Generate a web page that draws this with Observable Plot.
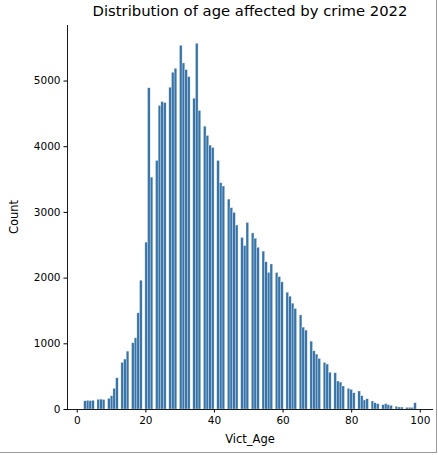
<!DOCTYPE html>
<html>
<head>
<meta charset="utf-8">
<script src="https://cdn.jsdelivr.net/npm/d3@7"></script>
<script src="https://cdn.jsdelivr.net/npm/@observablehq/plot@0.6"></script>
<style>
  html, body { margin: 0; padding: 0; background: #fff; }
  #wrap { position: relative; width: 438px; height: 455px; overflow: hidden; font-family: "DejaVu Sans", sans-serif; color: #000; }
  #chart { position: absolute; left: 0; top: 0; }
  #title { position: absolute; left: 67px; width: 366px; top: 2px; text-align: center; font-size: 14.8px; white-space: nowrap; }
  #ylab { position: absolute; left: 14px; top: 217px; transform: translate(-50%, -50%) rotate(-90deg); font-size: 11.5px; white-space: nowrap; }
  #xlab { position: absolute; left: 250px; top: 432px; transform: translateX(-50%); font-size: 11.5px; white-space: nowrap; }
  #edgeB { position: absolute; left: 0; top: 452px; width: 437px; height: 1px; background: #9a9a9a; }
  #edgeR { position: absolute; left: 436px; top: 0; width: 1px; height: 453px; background: #9a9a9a; }
</style>
</head>
<body>
<div id="wrap">
  <div id="chart"></div>
  <div id="title">Distribution of age affected by crime 2022</div>
  <div id="ylab">Count</div>
  <div id="xlab">Vict_Age</div>
  <div id="edgeB"></div>
  <div id="edgeR"></div>
</div>
<script>
// Victim ages (integers) and their counts
const ages = [
  2, 3, 4, 5, 6, 7, 8, 9, 10, 11, 12, 13, 14, 15, 16, 17, 18, 19, 20,
  21, 22, 23, 24, 25, 26, 27, 28, 29, 30, 31, 32, 33, 34, 35, 36, 37, 38, 39, 40,
  41, 42, 43, 44, 45, 46, 47, 48, 49, 50, 51, 52, 53, 54, 55, 56, 57, 58, 59, 60,
  61, 62, 63, 64, 65, 66, 67, 68, 69, 70, 71, 72, 73, 74, 75, 76, 77, 78, 79, 80,
  81, 82, 83, 84, 85, 86, 87, 88, 89, 90, 91, 92, 93, 94, 95, 96, 97, 98, 99
];
const counts = [
  125, 132, 128, 133, 148, 150, 145, 162, 202, 314, 476, 710, 760, 881, 1008, 1084, 1464, 1960, 2540,
  4890, 3530, 3784, 4620, 4680, 4665, 4898, 5126, 5187, 5536, 5268, 5167, 5061, 4731, 5567, 4544, 4305, 4164, 4017, 3982,
  3784, 3445, 3394, 3195, 3065, 2994, 2800, 2612, 2488, 2840, 2680, 2599, 2462, 2403, 2242, 2080, 2208, 2077, 2016, 1935,
  1778, 1717, 1611, 1530, 1433, 1246, 1201, 1033, 886, 836, 770, 710, 684, 560, 552, 426, 410, 350, 314, 299,
  248, 274, 203, 137, 157, 122, 96, 81, 66, 81, 66, 56, 41, 30, 30, 25, 25, 25, 96
];
const xTicks = [0, 20, 40, 60, 80, 100];
const yTicks = [0, 1000, 2000, 3000, 4000, 5000];
const binCount = 125;

const data = ages.map((age, i) => ({age, count: counts[i]}));

// histogram bin edges spanning the data range (numpy-style equal bins)
const aMin = d3.min(ages), aMax = d3.max(ages);
const thresholds = d3.range(binCount + 1).map(i => aMin + i * (aMax - aMin) / binCount);
thresholds[binCount] = aMax + 1e-9;

// matplotlib-style 5% margins
const pad = 0.05 * (aMax - aMin);
const xDomain = [aMin - pad, aMax + pad];
const yMax = d3.max(counts) * 1.05;

const chart = Plot.plot({
  width: 438,
  height: 455,
  marginLeft: 67,
  marginRight: 5,
  marginTop: 25,
  marginBottom: 46,
  style: { fontFamily: "DejaVu Sans, sans-serif", fontSize: "10.5px", color: "#000", background: "transparent" },
  x: { domain: xDomain, label: null },
  y: { domain: [0, yMax], label: null },
  marks: [
    Plot.rectY(data, Plot.binX({ y: "sum" }, {
      x: "age", y: "count", thresholds,
      fill: "#3874a8", stroke: "#ffffff", strokeWidth: 0.5, strokeOpacity: 0.6, inset: 0
    })),
    Plot.ruleY([0], { stroke: "#000", strokeWidth: 0.9 }),
    Plot.ruleX([xDomain[0]], { stroke: "#000", strokeWidth: 0.9 }),
    Plot.axisX({ ticks: xTicks, tickSize: 3.5, tickPadding: 3.5, label: null, tickFormat: d3.format("d") }),
    Plot.axisY({ ticks: yTicks, tickSize: 3.5, tickPadding: 3.5, label: null, tickFormat: d3.format("d") })
  ]
});
document.getElementById("chart").appendChild(chart);
</script>
</body>
</html>
